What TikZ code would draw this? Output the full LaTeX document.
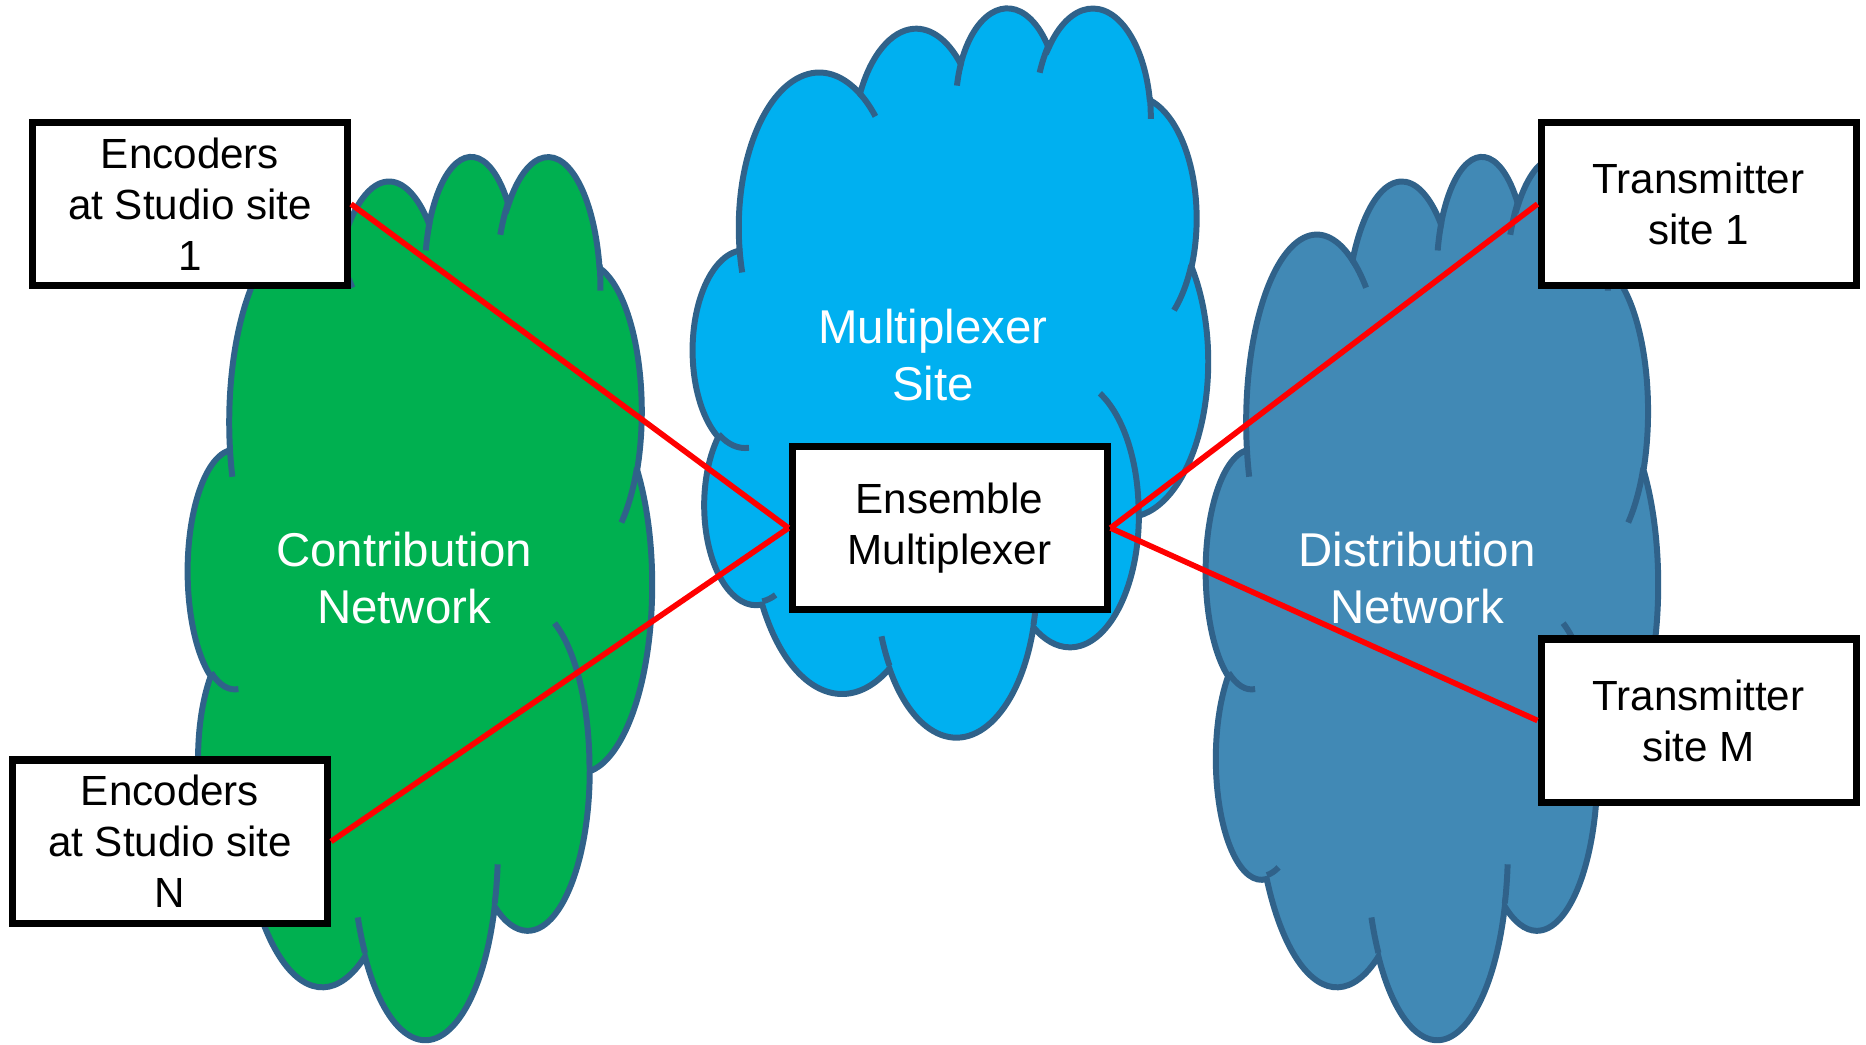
\documentclass[tikz,border=0pt]{standalone}
\usepackage{fontspec}
\setmainfont{Liberation Sans}

\definecolor{contrib}{HTML}{00B050}
\definecolor{muxsite}{HTML}{00B0F0}
\definecolor{distrib}{HTML}{4189B5}
\definecolor{cloudedge}{HTML}{30628A}

\tikzset{
  box/.style={draw=black, line width=2pt, fill=white, minimum width=3.15cm,
    minimum height=1.63cm, inner sep=0pt, align=center,
    font=\fontsize{12}{14.5}\selectfont},
  netlabel/.style={text=white, align=center, font=\fontsize{13.5}{16.2}\selectfont},
  link/.style={red, line width=1.6pt},
  puffline/.style={draw=cloudedge, line width=1.7pt}
}

% cloud outline in a unit square: fill colour, left, top, width, height
\newcommand\netcloud[5]{%
  \begin{scope}[shift={(#2,#3)}, xscale=#4, yscale=-#5]
    \filldraw[fill=#1, puffline] (0.090278,0.332639)
      \foreach \rx/\ry/\st/\sw
        [evaluate=\st as \ta using {atan2(100*\rx*sin(\st),100*\ry*cos(\st))},
         evaluate=\st as \tb using {atan2(100*\rx*sin(\st+\sw),100*\ry*cos(\st+\sw))},
         evaluate=\st as \td using {\tb-(\ta)+360*round((\sw-(\tb)+(\ta))/360)}]
        in {0.156319/0.212731/-190.4875/123.7805,
            0.123449/0.168218/-144.1024/89.9452,
            0.101042/0.137616/-145.8079/99.7230,
            0.112431/0.152662/-130.9861/117.2417,
            0.123449/0.168356/-78.7089/109.0269,
            0.156829/0.213426/-46.2673/130.2690,
            0.133912/0.182106/0.6250/114.0333,
            0.156296/0.213310/22.4516/115.1726,
            0.178704/0.244051/66.2426/75.7110,
            0.100926/0.136991/-274.9421/146.7356,
            0.100579/0.137616/-246.8285/152.5226}
        { arc[start angle=\ta, delta angle=\td, x radius=\rx, y radius=\ry] }
      -- cycle;
    % the short inner strokes
    \draw[puffline]
      \foreach \px/\py/\rx/\ry/\st/\sw
        [evaluate=\st as \ta using {atan2(100*\rx*sin(\st),100*\ry*cos(\st))},
         evaluate=\st as \tb using {atan2(100*\rx*sin(\st+\sw),100*\ry*cos(\st+\sw))},
         evaluate=\st as \td using {\tb-(\ta)+360*round((\sw-(\tb)+(\ta))/360)}]
        in {0.108634/0.605949/0.100579/0.137616/86.7420/26.4295,
            0.160370/0.807847/0.100926/0.136991/73.6105/11.4475,
            0.381435/0.904861/0.156296/0.213310/137.6242/14.0811,
            0.667292/0.804421/0.156296/0.213310/6.4533/15.9984,
            0.790023/0.531343/0.133912/0.182106/-70.2924/70.9174,
            0.967546/0.355417/0.123449/0.168356/30.3180/27.7515,
            0.887130/0.125602/0.112431/0.152662/-13.7443/14.8589,
            0.673102/0.091481/0.112431/0.152662/-149.1815/18.1954,
            0.512523/0.109259/0.101042/0.137616/-163.4943/17.6864,
            0.324074/0.120185/0.156319/0.212731/-66.7070/12.3194,
            0.095532/0.365486/0.156319/0.212731/157.6544/11.8582}
        { (\px,\py) arc[start angle=\ta, delta angle=\td, x radius=\rx, y radius=\ry] };
  \end{scope}}

\begin{document}
\begin{tikzpicture}
  \useasboundingbox (0,0) rectangle (18.66,10.44);
  % networks
  \netcloud{contrib}{1.88}{8.90}{4.64}{8.83}
  \netcloud{muxsite}{6.93}{10.38}{5.15}{7.29}
  \netcloud{distrib}{12.06}{8.90}{4.52}{8.83}
  \node[netlabel] (contribtxt) at (4.04,4.66) {Contribution\\Network};
  \node[netlabel] (muxtxt) at (9.33,6.89) {Multiplexer\\Site};
  \node[netlabel] (distribtxt) at (14.17,4.66) {Distribution\\Network};
  % sites
  \node[box] (enc1) at (1.90,8.40) {Encoders\\at Studio site\\1};
  \node[box] (encN) at (1.70,2.025) {Encoders\\at Studio site\\N};
  \node[box] (ens) at (9.495,5.16) {Ensemble\\Multiplexer};
  \node[box] (tx1) at (16.985,8.40) {Transmitter\\site 1};
  \node[box] (txM) at (16.985,3.235) {Transmitter\\site M};
  \draw[link] (enc1.east) -- (ens.west);
  \draw[link] (encN.east) -- (ens.west);
  \draw[link] (ens.east) -- (tx1.west);
  \draw[link] (ens.east) -- (txM.west);
\end{tikzpicture}
\end{document}
